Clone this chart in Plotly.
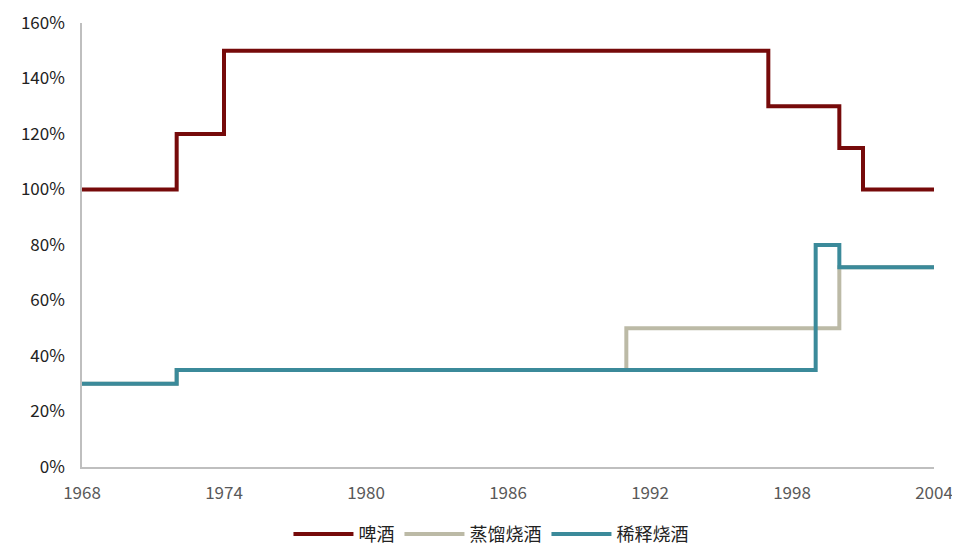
import plotly.graph_objects as go

beer_years = [1968, 1972, 1974, 1997, 2000, 2001, 2004]
beer_vals = [100, 120, 150, 130, 115, 100, 100]
dist_years = [1968, 1972, 1991, 2000, 2004]
dist_vals = [30, 35, 50, 72, 72]
dil_years = [1968, 1972, 1999, 2000, 2004]
dil_vals = [30, 35, 80, 72, 72]
x_ticks = [1968, 1974, 1980, 1986, 1992, 1998, 2004]
y_ticks = [0, 20, 40, 60, 80, 100, 120, 140, 160]
y_tick_labels = [f"{v}%" for v in y_ticks]

fig = go.Figure()
fig.add_trace(go.Scatter(x=beer_years, y=beer_vals, mode="lines", line_shape="hv",
                         name="啤酒", line=dict(color="#760A0A", width=4)))
fig.add_trace(go.Scatter(x=dist_years, y=dist_vals, mode="lines", line_shape="hv",
                         name="蒸馏烧酒", line=dict(color="#BCBAA6", width=4)))
fig.add_trace(go.Scatter(x=dil_years, y=dil_vals, mode="lines", line_shape="hv",
                         name="稀释烧酒", line=dict(color="#3B8A9A", width=4)))

fig.update_layout(
    width=944, height=541,
    margin=dict(l=74, r=18, t=15, b=82, autoexpand=False),
    paper_bgcolor="white", plot_bgcolor="white",
    font=dict(family="Noto Sans CJK SC, Noto Sans, sans-serif", size=17, color="#333333"),
    legend=dict(orientation="h", x=0.48, xanchor="center", y=-0.11, yanchor="top",
                font=dict(size=18, color="#222222"), itemwidth=60),
    showlegend=True,
)
fig.update_xaxes(range=[1968, 2004], tickvals=x_ticks, showgrid=False, zeroline=False,
                 showline=True, linecolor="#BFBFBF", linewidth=1.5, automargin=False,
                 ticklabeloverflow="allow",
                 tickfont=dict(color="#595959", size=17), ticks="", ticklabelstandoff=10)
fig.update_yaxes(range=[0, 160], tickvals=y_ticks, ticktext=y_tick_labels, showgrid=False,
                 zeroline=False, showline=True, linecolor="#BFBFBF", linewidth=1.5,
                 automargin=False, ticklabelstandoff=12, ticklabeloverflow="allow",
                 tickfont=dict(color="#222222", size=17), ticks="")

fig.write_html("out.html")
